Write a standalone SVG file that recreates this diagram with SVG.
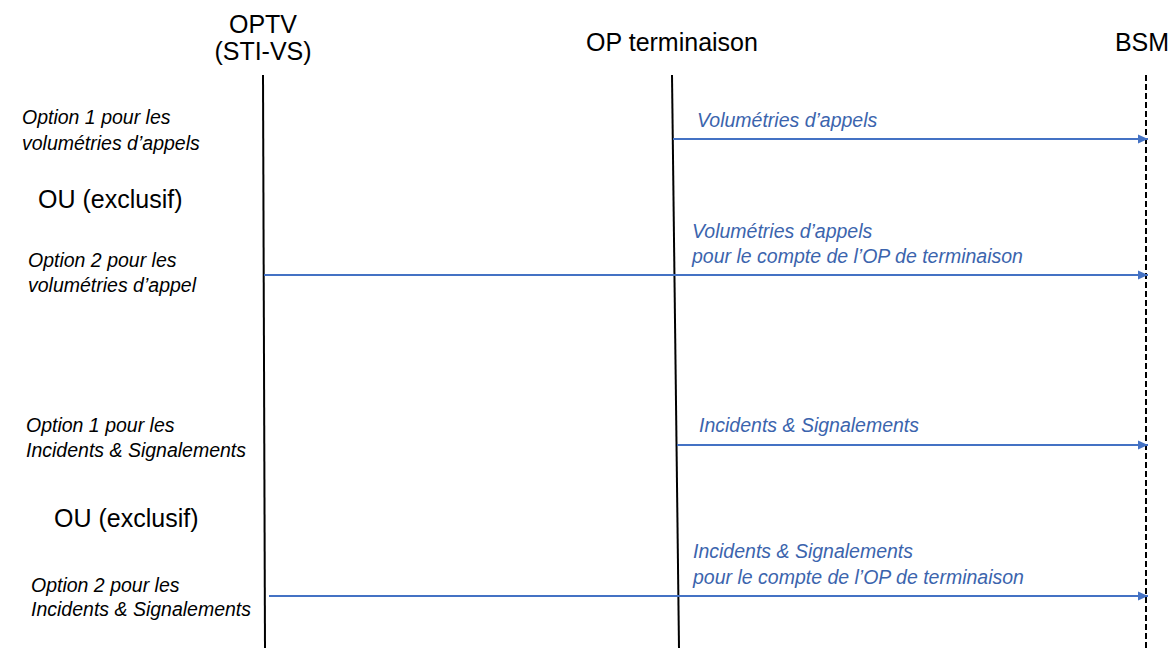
<svg xmlns="http://www.w3.org/2000/svg" width="1175" height="649" viewBox="0 0 1175 649">
<style>
  .hdr { font-family: "Liberation Sans", Arial, sans-serif; font-size: 25px; fill: #000; text-anchor: middle; }
  .ou { font-family: "Liberation Sans", Arial, sans-serif; font-size: 25px; fill: #000; }
  .lbl { font-family: "Liberation Sans", Arial, sans-serif; font-size: 19.5px; font-style: italic; fill: #000; }
  .msg { font-family: "Liberation Sans", Arial, sans-serif; font-size: 19.5px; font-style: italic; fill: #3B64AD; }
  .life { stroke: #000; stroke-width: 2; fill: none; }
  .dash { stroke: #000; stroke-width: 2; stroke-dasharray: 6 3; fill: none; }
  .arrow { stroke: #4472C4; stroke-width: 2; fill: none; marker-end: url(#ah); }
</style>
<defs>
  <marker id="ah" markerUnits="userSpaceOnUse" markerWidth="10" markerHeight="10" viewBox="0 0 10 10" refX="10" refY="5" orient="auto">
    <path d="M0,0.5 L10,5 L0,9.5 Z" fill="#4472C4"/>
  </marker>
</defs>
<rect width="1175" height="649" fill="#fff"/>

<g id="optv">
  <text class="hdr" x="263" y="33">OPTV</text>
  <text class="hdr" x="263" y="60">(STI-VS)</text>
  <line class="life" x1="263" y1="75" x2="265" y2="648"/>
</g>
<g id="op-terminaison">
  <text class="hdr" x="672" y="51">OP terminaison</text>
  <line class="life" x1="672" y1="75" x2="679" y2="648"/>
</g>
<g id="bsm">
  <text class="hdr" x="1142" y="51">BSM</text>
  <line class="dash" x1="1146" y1="75" x2="1146" y2="648"/>
</g>

<g id="labels">
  <text class="lbl" x="22" y="124">Option 1 pour les</text>
  <text class="lbl" x="22" y="150">volumétries d’appels</text>
  <text class="ou" x="38" y="208">OU (exclusif)</text>
  <text class="lbl" x="28" y="267">Option 2 pour les</text>
  <text class="lbl" x="28" y="292">volumétries d’appel</text>
  <text class="lbl" x="26" y="432">Option 1 pour les</text>
  <text class="lbl" x="26" y="457">Incidents &amp; Signalements</text>
  <text class="ou" x="54" y="527">OU (exclusif)</text>
  <text class="lbl" x="31" y="592">Option 2 pour les</text>
  <text class="lbl" x="31" y="616">Incidents &amp; Signalements</text>
</g>

<g id="connectors">
  <line class="arrow" x1="673" y1="139" x2="1148" y2="139"/>
  <text class="msg" x="697" y="127">Volumétries d’appels</text>
  <line class="arrow" x1="264" y1="275" x2="1148" y2="275"/>
  <text class="msg" x="692" y="238">Volumétries d’appels</text>
  <text class="msg" x="692" y="263">pour le compte de l’OP de terminaison</text>
  <line class="arrow" x1="677" y1="445" x2="1148" y2="445"/>
  <text class="msg" x="699" y="432">Incidents &amp; Signalements</text>
  <line class="arrow" x1="269" y1="596" x2="1148" y2="596"/>
  <text class="msg" x="693" y="558">Incidents &amp; Signalements</text>
  <text class="msg" x="693" y="584">pour le compte de l’OP de terminaison</text>
</g>
</svg>
